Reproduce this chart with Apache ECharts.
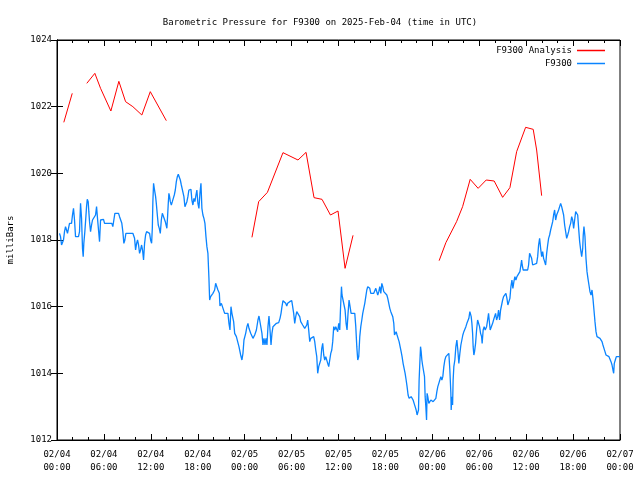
<!DOCTYPE html>
<html>
<head>
<meta charset="utf-8">
<script src="https://cdn.jsdelivr.net/npm/echarts@6/dist/echarts.min.js"></script>
<style>html,body{margin:0;padding:0;background:#fff}#c{width:640px;height:480px}</style>
</head>
<body>
<div id="c"></div>
<script>
var titleText = "Barometric Pressure for F9300 on 2025-Feb-04 (time in UTC)";
var yAxisTitle = "milliBars";
var xTickLabels = ["02/04\n00:00","02/04\n06:00","02/04\n12:00","02/04\n18:00","02/05\n00:00","02/05\n06:00","02/05\n12:00","02/05\n18:00","02/06\n00:00","02/06\n06:00","02/06\n12:00","02/06\n18:00","02/07\n00:00"];
var seriesNames = ["F9300 Analysis", "F9300"];

// hours since 02/04 00:00 UTC
var analysisHours = [0.87,1.95,2.9,3.81,4.84,5.57,6.89,7.91,8.77,9.70,10.85,11.93,13.98,19,
  24.93,25.79,26.91,28.90,30.82,31.85,32.87,33.89,34.97,35.94,36.84,37.86,43,
  48.87,49.73,51.10,51.87,52.84,53.86,54.89,55.91,56.99,57.92,58.78,59.93,60.90,61.34,61.98];
var analysisValues = [1021.53,1022.40,null,1022.70,1023.00,1022.55,1021.87,1022.76,1022.15,1022.00,1021.75,1022.45,1021.58,null,
  1018.08,1019.15,1019.43,1020.62,1020.40,1020.63,1019.27,1019.22,1018.75,1018.87,1017.15,1018.14,null,
  1017.38,1017.92,1018.55,1019.00,1019.82,1019.55,1019.80,1019.77,1019.28,1019.57,1020.65,1021.38,1021.32,1020.70,1019.33];

var obsHours = [0.32,0.45,0.58,0.70,0.83,0.96,1.09,1.22,1.34,1.47,1.60,1.73,1.86,1.98,2.11,2.24,2.37,2.62,2.75,2.88,
3.01,3.14,3.26,3.35,3.43,3.56,3.65,3.78,3.87,3.99,4.07,4.16,4.29,4.42,4.54,4.67,4.93,5.06,5.18,5.31,
5.44,5.57,5.70,5.95,6.08,7.01,7.14,7.27,7.40,7.87,8.00,8.13,8.29,8.42,8.55,8.68,8.81,9.70,9.92,10.05,
10.18,10.30,10.43,10.56,10.69,10.82,10.94,11.07,11.20,11.33,11.46,11.58,11.71,11.84,11.97,12.10,12.19,12.26,12.35,12.44,
12.52,12.61,12.70,12.83,12.95,13.08,13.21,13.34,13.47,13.59,13.72,13.85,13.98,14.05,14.14,14.23,14.31,14.40,14.49,14.62,
14.75,14.87,15.00,15.13,15.26,15.39,15.51,15.64,15.77,15.90,16.10,16.23,16.36,16.49,16.61,16.74,16.87,17.13,17.25,17.38,
17.51,17.64,17.77,17.89,18.02,18.15,18.28,18.41,18.53,18.66,18.79,18.92,19.05,19.17,19.30,19.43,19.52,19.65,19.94,20.16,
20.29,20.45,20.58,20.76,20.84,21.02,21.22,21.44,21.66,21.86,21.99,22.12,22.25,22.37,22.59,22.72,22.94,23.14,23.27,23.49,
23.65,23.78,23.91,24.13,24.29,24.42,24.55,24.77,25.06,25.28,25.50,25.70,25.83,26.05,26.21,26.34,26.47,26.60,26.73,26.85,
26.98,27.11,27.24,27.37,27.49,27.62,27.84,28.06,28.35,28.52,28.65,28.77,28.90,29.12,29.25,29.38,29.50,29.76,30.02,30.18,
30.27,30.40,30.53,30.66,30.78,30.91,31.04,31.17,31.30,31.42,31.55,31.68,31.81,31.94,32.06,32.19,32.32,32.45,32.58,32.70,
32.83,32.96,33.09,33.22,33.34,33.47,33.60,33.73,33.86,33.98,34.11,34.24,34.37,34.50,34.62,34.75,34.88,35.01,35.14,35.26,
35.39,35.52,35.65,35.78,35.90,36.03,36.16,36.25,36.38,36.45,36.58,36.71,36.84,36.97,37.09,37.22,37.35,37.48,37.61,38.08,
38.21,38.34,38.46,38.59,38.72,38.85,38.98,39.10,39.23,39.36,39.49,39.62,39.74,39.87,40.00,40.13,40.51,40.64,40.77,40.90,
41.02,41.15,41.28,41.41,41.54,41.66,41.79,41.92,42.18,42.30,42.43,42.56,42.69,42.82,42.94,43.07,43.16,43.24,43.37,43.49,
43.62,43.75,43.88,44.01,44.13,44.26,44.39,44.52,44.65,44.77,44.90,45.03,45.16,45.29,45.41,45.54,45.67,45.80,45.93,46.05,
46.14,46.23,46.31,46.40,46.49,46.57,46.66,46.75,46.87,47.00,47.08,47.17,47.26,47.33,47.42,47.55,47.68,47.81,48.10,48.32,
48.45,48.58,48.70,48.83,48.96,49.09,49.22,49.34,49.47,49.60,49.73,49.86,50.11,50.24,50.37,50.41,50.50,50.59,50.66,50.75,
50.88,51.01,51.14,51.26,51.39,51.52,51.65,51.78,51.90,52.03,52.16,52.29,52.42,52.54,52.67,52.80,52.89,52.97,53.06,53.15,
53.22,53.31,53.40,53.53,53.66,53.79,53.91,54.04,54.17,54.30,54.37,54.50,54.63,54.76,54.94,55.07,55.19,55.27,55.40,55.58,
55.71,55.83,55.96,56.09,56.22,56.35,56.47,56.60,56.73,56.86,56.99,57.11,57.24,57.41,57.54,57.66,57.79,57.92,58.05,58.18,
58.30,58.43,58.56,58.69,58.82,58.94,59.07,59.20,59.33,59.42,59.49,59.62,60.19,60.31,60.44,60.57,60.70,60.83,60.95,61.34,
61.47,61.59,61.72,61.85,61.98,62.11,62.23,62.36,62.49,62.62,62.75,62.87,63.00,63.13,63.26,63.39,63.51,63.64,63.77,63.90,
64.03,64.15,64.28,64.41,64.54,64.67,64.79,64.92,65.05,65.18,65.31,65.43,65.56,65.69,65.82,65.95,66.07,66.20,66.33,66.46,
66.59,66.71,66.84,66.97,67.10,67.23,67.30,67.39,67.52,67.65,67.78,67.90,68.03,68.16,68.29,68.42,68.54,68.67,68.80,68.93,
69.06,69.31,69.44,69.57,69.70,69.82,69.95,70.08,70.21,70.34,70.59,70.72,70.85,70.98,71.10,71.19,71.27,71.40,71.53,72.00];
var obsValues = [1018.20,1018.10,1017.85,1017.90,1018.00,1018.25,1018.40,1018.30,1018.20,1018.35,1018.50,1018.45,1018.50,1018.75,1018.95,1018.60,1018.10,1018.05,1018.10,1018.25,
1019.10,1018.65,1017.75,1017.50,1017.90,1018.25,1018.55,1019.00,1019.22,1019.15,1018.85,1018.55,1018.25,1018.45,1018.60,1018.65,1018.75,1019.00,1018.65,1018.30,
1017.95,1018.60,1018.63,1018.62,1018.50,1018.50,1018.40,1018.60,1018.80,1018.80,1018.70,1018.65,1018.50,1018.25,1017.90,1018.00,1018.20,1018.20,1018.05,1017.70,
1017.90,1018.00,1017.85,1017.60,1017.70,1017.85,1017.70,1017.40,1017.90,1018.15,1018.25,1018.30,1018.25,1018.20,1018.00,1017.90,1018.35,1019.15,1019.70,1019.55,
1019.60,1019.30,1019.10,1018.75,1018.45,1018.35,1018.20,1018.60,1018.80,1018.80,1018.75,1018.55,1018.50,1018.35,1018.70,1019.10,1019.40,1019.30,1019.15,1019.05,
1019.15,1019.25,1019.35,1019.50,1019.75,1019.90,1019.97,1020.00,1019.80,1019.65,1019.60,1019.30,1019.00,1019.05,1019.15,1019.30,1019.50,1019.52,1019.20,1019.05,
1019.25,1019.15,1019.35,1019.50,1019.10,1018.95,1019.40,1019.70,1018.95,1018.75,1018.65,1018.50,1018.10,1017.80,1017.60,1016.85,1016.20,1016.30,1016.40,1016.50,
1016.70,1016.65,1016.50,1016.40,1016.02,1016.10,1016.05,1015.80,1015.75,1015.80,1015.50,1015.30,1016.00,1015.80,1015.55,1015.20,1015.10,1015.15,1014.80,1014.55,
1014.40,1014.60,1015.00,1015.20,1015.40,1015.50,1015.35,1015.20,1015.05,1015.15,1015.30,1015.60,1015.72,1015.72,1015.20,1014.85,1015.05,1014.85,1015.05,1014.85,
1015.40,1015.72,1015.30,1014.85,1015.20,1015.40,1015.42,1015.50,1015.52,1015.65,1015.80,1016.00,1016.18,1016.15,1016.10,1016.02,1016.10,1016.15,1016.18,1016.15,
1015.80,1015.50,1015.70,1015.85,1015.90,1015.80,1015.70,1015.55,1015.50,1015.45,1015.40,1015.35,1015.30,1015.45,1015.60,1015.30,1014.95,1015.05,1015.00,1015.05,
1015.10,1014.95,1014.70,1014.50,1014.00,1014.20,1014.15,1014.40,1014.75,1014.90,1014.55,1014.40,1014.50,1014.45,1014.30,1014.20,1014.40,1014.60,1014.70,1014.95,
1015.40,1015.30,1015.40,1015.35,1015.25,1015.50,1015.30,1015.90,1016.60,1016.35,1016.20,1016.05,1015.90,1015.50,1015.30,1015.80,1016.20,1016.00,1015.80,1015.80,
1015.40,1014.80,1014.40,1014.50,1015.10,1015.40,1015.60,1015.80,1015.95,1016.10,1016.30,1016.50,1016.60,1016.62,1016.55,1016.40,1016.40,1016.45,1016.55,1016.50,
1016.35,1016.45,1016.60,1016.40,1016.70,1016.60,1016.45,1016.40,1016.35,1016.25,1016.10,1015.95,1015.85,1015.80,1015.70,1015.50,1015.15,1015.20,1015.25,1015.15,
1015.05,1014.95,1014.80,1014.65,1014.50,1014.30,1014.15,1014.00,1013.80,1013.60,1013.35,1013.25,1013.25,1013.30,1013.25,1013.20,1013.10,1013.00,1012.90,1012.75,
1012.70,1012.90,1013.80,1014.30,1014.80,1014.65,1014.40,1014.25,1014.20,1013.90,1013.30,1013.00,1012.60,1013.40,1013.30,1013.10,1013.15,1013.20,1013.15,1013.10,
1013.25,1013.45,1013.60,1013.70,1013.80,1013.90,1013.80,1013.90,1014.20,1014.40,1014.50,1014.55,1014.60,1014.10,1013.40,1012.90,1013.30,1013.05,1013.80,1014.20,
1014.40,1014.80,1015.00,1014.70,1014.30,1014.60,1014.85,1014.90,1015.15,1015.25,1015.30,1015.40,1015.50,1015.55,1015.65,1015.85,1015.90,1015.70,1015.50,1015.20,
1014.80,1014.55,1014.65,1014.90,1015.30,1015.60,1015.55,1015.40,1015.20,1015.10,1014.90,1015.30,1015.40,1015.30,1015.40,1015.60,1015.80,1015.60,1015.30,1015.30,
1015.50,1015.60,1015.70,1015.80,1015.60,1015.70,1015.90,1015.60,1015.90,1016.05,1016.20,1016.30,1016.35,1016.40,1016.25,1016.05,1016.10,1016.25,1016.60,1016.80,
1016.55,1016.75,1016.90,1016.80,1016.90,1016.95,1016.90,1017.05,1017.25,1017.40,1017.25,1017.10,1017.10,1017.25,1017.60,1017.60,1017.45,1017.25,1017.30,1017.30,
1017.50,1017.85,1018.05,1017.75,1017.50,1017.65,1017.45,1017.35,1017.25,1017.60,1017.85,1018.05,1018.15,1018.30,1018.35,1018.55,1018.75,1018.90,1018.60,1018.75,
1018.80,1018.90,1019.00,1019.10,1019.00,1018.95,1018.75,1018.45,1018.25,1018.05,1018.15,1018.25,1018.40,1018.50,1018.70,1018.60,1018.35,1018.60,1018.85,1018.90,
1018.75,1018.35,1017.95,1017.70,1017.50,1017.75,1018.15,1018.40,1018.10,1017.45,1017.05,1016.85,1016.65,1016.45,1016.35,1016.50,1016.25,1015.90,1015.55,1015.25,
1015.10,1015.10,1015.05,1015.00,1014.95,1014.85,1014.75,1014.65,1014.55,1014.50,1014.50,1014.45,1014.35,1014.25,1014.10,1014.00,1014.30,1014.40,1014.50,1014.50];

function pairs(xs, ys) { return xs.map(function (x, i) { return [x, ys[i]]; }); }

var FONT = "'DejaVu Sans Mono', 'Liberation Mono', monospace";
var chart = echarts.init(document.getElementById('c'), null, { renderer: 'canvas' });
chart.setOption({
  animation: false,
  backgroundColor: '#ffffff',
  title: {
    text: titleText, left: 'center', top: 13,
    textStyle: { fontFamily: FONT, fontSize: 9, fontWeight: 'normal', color: '#000' }
  },
  legend: {
    orient: 'vertical', right: 30, top: 41, align: 'right',
    icon: 'rect', itemWidth: 28, itemHeight: 1.5, itemGap: 4,
    textStyle: { fontFamily: FONT, fontSize: 9, color: '#000' },
    data: seriesNames
  },
  grid: { left: 57, right: 20, top: 40, bottom: 40, show: true, borderColor: '#000', borderWidth: 1,
    containLabel: false, outerBoundsMode: 'none' },
  xAxis: [{
    type: 'value', min: 0, max: 72, interval: 6,
    axisLine: { show: true, lineStyle: { color: '#000', width: 1 } },
    axisTick: { show: true, inside: true, length: 6, lineStyle: { color: '#000' } },
    minorTick: { show: true, splitNumber: 3, length: 3, lineStyle: { color: '#000' } },
    splitLine: { show: false },
    axisLabel: { fontFamily: FONT, fontSize: 9, color: '#000', lineHeight: 13, margin: 8,
      formatter: function (v) { return xTickLabels[Math.round(v / 6)]; } }
  }, {
    type: 'value', min: 0, max: 72, interval: 6, position: 'top',
    axisLine: { show: true, lineStyle: { color: '#000' } },
    axisTick: { show: true, inside: true, length: 6, lineStyle: { color: '#000' } },
    minorTick: { show: true, splitNumber: 3, length: 3, lineStyle: { color: '#000' } },
    splitLine: { show: false }, axisLabel: { show: false }
  }],
  yAxis: [{
    type: 'value', min: 1012, max: 1024, interval: 2,
    name: yAxisTitle, nameLocation: 'middle', nameGap: 42, nameRotate: 90,
    nameTextStyle: { fontFamily: FONT, fontSize: 9, color: '#000' },
    axisLine: { show: true, lineStyle: { color: '#000' } },
    axisTick: { show: true, inside: true, length: 6, lineStyle: { color: '#000' } },
    splitLine: { show: false },
    axisLabel: { fontFamily: FONT, fontSize: 9, color: '#000', margin: 5,
      formatter: function (v) { return String(v); } }
  }, {
    type: 'value', min: 1012, max: 1024, interval: 2, position: 'right',
    axisLine: { show: true, lineStyle: { color: '#000' } },
    axisTick: { show: true, inside: true, length: 6, lineStyle: { color: '#000' } },
    splitLine: { show: false }, axisLabel: { show: false }
  }],
  series: [{
    name: seriesNames[0], type: 'line', xAxisIndex: 0, yAxisIndex: 0,
    data: pairs(analysisHours, analysisValues),
    symbol: 'none', connectNulls: false, color: '#ff0000',
    lineStyle: { color: '#ff0000', width: 1 }
  }, {
    name: seriesNames[1], type: 'line', xAxisIndex: 0, yAxisIndex: 0,
    data: pairs(obsHours, obsValues),
    symbol: 'none', color: '#0a84ff',
    lineStyle: { color: '#0a84ff', width: 1.3 }
  }]
});
</script>
</body>
</html>
